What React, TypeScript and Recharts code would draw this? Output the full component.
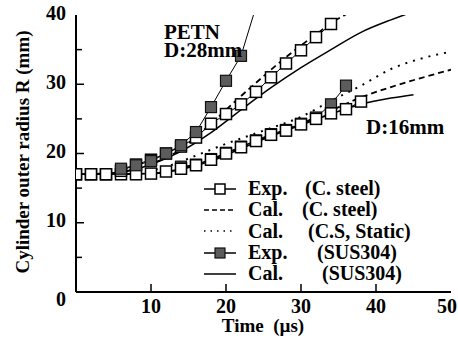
import React from "react";
import { LineChart, Line, XAxis, YAxis, Legend } from "recharts";

// D:28mm branch (PETN)
const expSteel28T = [0, 2, 4, 6, 8, 10, 12, 14, 16, 18, 20, 22, 24, 26, 28, 30, 32, 34];
const expSteel28R = [17, 17, 17, 17.5, 18.4, 19.1, 20.0, 21.0, 22.3, 24.3, 25.7, 27.1, 28.9, 31.0, 33.0, 34.9, 36.8, 38.7];
const calSteel28T = [0, 4, 8, 10, 12, 14, 16, 18, 20, 22, 24, 26, 28, 30, 32, 34, 36];
const calSteel28R = [17, 17.1, 17.8, 18.5, 19.4, 20.6, 22.4, 24.3, 26.3, 28.3, 30.2, 32.1, 33.9, 35.6, 37.2, 38.8, 40.1];
const expSus28T = [6, 8, 10, 12, 14, 16, 18, 20, 22, 24];
const expSus28R = [17.8, 18.3, 18.9, 20.0, 21.2, 23.1, 26.7, 30.5, 34.1, 41.2];
const calSus28T = [0, 6, 10, 14, 18, 22, 26, 30, 34, 38, 42, 44];
const calSus28R = [17, 17.3, 18.4, 20.3, 23.0, 26.3, 29.5, 32.4, 35.0, 37.5, 39.3, 40.1];

// D:16mm branch
const expSteel16T = [0, 2, 4, 6, 8, 10, 12, 14, 16, 18, 20, 22, 24, 26, 28, 30, 32, 34, 36, 38];
const expSteel16R = [17, 17, 17, 17, 17, 17.1, 17.4, 17.8, 18.3, 19.1, 20.0, 20.9, 21.8, 22.7, 23.3, 24.2, 25.0, 25.8, 26.4, 27.5];
const calSteel16T = [0, 10, 14, 18, 22, 26, 30, 34, 38, 42, 46, 50];
const calSteel16R = [17, 17.1, 17.8, 19.1, 20.8, 22.6, 24.3, 26.2, 28.1, 29.6, 30.9, 32.1];
const calStatic16T = [0, 8, 12, 16, 20, 25, 30, 34, 38, 42, 46, 50];
const calStatic16R = [17, 17.2, 18.1, 19.7, 21.4, 23.3, 25.3, 27.6, 29.8, 32.2, 33.7, 34.7];
const expSus16T = [14, 16, 18, 20, 22, 24, 26, 28, 30, 32, 34, 36];
const expSus16R = [18.1, 18.4, 19.2, 20.1, 21.0, 21.9, 22.8, 23.4, 24.3, 25.2, 27.1, 29.8];
const calSus16T = [0, 10, 14, 18, 22, 26, 30, 34, 38, 42, 45];
const calSus16R = [17, 17.1, 17.7, 18.9, 20.7, 22.5, 24.1, 25.7, 27.1, 28.0, 28.5];

const xTicks = [0, 10, 20, 30, 40, 50];
const yTicks = [0, 5, 10, 15, 20, 25, 30, 35, 40];

const legendRows = [
  { kind: "expSteel", a: "Exp.", b: "(C. steel)" },
  { kind: "calSteel", a: "Cal.", b: "(C. steel)" },
  { kind: "calStatic", a: "Cal.", b: "(C.S, Static)" },
  { kind: "expSus", a: "Exp.", b: "(SUS304)" },
  { kind: "calSus", a: "Cal.", b: "(SUS304)" },
];

const zip = (t: number[], r: number[]) => t.map((v, i) => ({ t: v, r: r[i] }));

const FONT = '"Liberation Serif", "Times New Roman", serif';
const FILL_SUS = "#5c5c5c";

const OpenSquare = (p: any) => {
  if (p.cx == null || p.cy == null) return <g key={p.index} />;
  return (
    <rect key={p.index} x={p.cx - 5.5} y={p.cy - 5.5} width={11} height={11} fill="#fff" stroke="#000" strokeWidth={1.5} />
  );
};

const FilledSquare = (p: any) => {
  if (p.cx == null || p.cy == null) return <g key={p.index} />;
  return (
    <rect key={p.index} x={p.cx - 5.5} y={p.cy - 5.5} width={11} height={11} fill={FILL_SUS} stroke="#111" strokeWidth={1.2} />
  );
};

const BottomTick = (p: any) => {
  const v = p.payload.value;
  const last = v === 50;
  return (
    <g>
      {v > 0 && v < 50 && <line x1={p.x} x2={p.x} y1={p.y} y2={p.y - 8} stroke="#000" strokeWidth={1.5} />}
      {v > 0 && (
        <text
          x={last ? p.x + 6 : p.x}
          y={p.y + 16}
          textAnchor={last ? "end" : "middle"}
          dominantBaseline="middle"
          fontFamily={FONT}
          fontWeight="bold"
          fontSize={20}
          fill="#000"
        >
          {v}
        </text>
      )}
    </g>
  );
};

const TopTick = (p: any) => {
  const v = p.payload.value;
  if (v <= 0 || v >= 50) return <g />;
  return <line x1={p.x} x2={p.x} y1={p.y} y2={p.y + 8} stroke="#000" strokeWidth={1.5} />;
};

const LeftTick = (p: any) => {
  const v = p.payload.value;
  const major = v % 10 === 0;
  return (
    <g>
      {v > 0 && v < 40 && <line x1={p.x} x2={p.x + (major ? 8 : 6)} y1={p.y} y2={p.y} stroke="#000" strokeWidth={1.5} />}
      {major && (
        <text x={p.x - 10} y={v === 0 ? p.y + 9 : p.y} textAnchor="end" dominantBaseline="middle" fontFamily={FONT} fontWeight="bold" fontSize={20} fill="#000">
          {v}
        </text>
      )}
    </g>
  );
};

const RightTick = (p: any) => {
  const v = p.payload.value;
  if (v <= 0 || v >= 40) return <g />;
  const major = v % 10 === 0;
  return <line x1={p.x} x2={p.x - (major ? 10 : 7)} y1={p.y} y2={p.y} stroke="#000" strokeWidth={1.5} />;
};

const LegendIcon = ({ kind }: { kind: string }) => (
  <svg width={32} height={14} style={{ display: "block" }}>
    {kind === "expSteel" && (
      <>
        <line x1={0} x2={32} y1={7} y2={7} stroke="#000" strokeWidth={1.5} />
        <rect x={11} y={2} width={10} height={10} fill="#fff" stroke="#000" strokeWidth={1.5} />
      </>
    )}
    {kind === "calSteel" && <line x1={0} x2={32} y1={7} y2={7} stroke="#000" strokeWidth={1.5} strokeDasharray="5 3" />}
    {kind === "calStatic" && <line x1={0} x2={32} y1={7} y2={7} stroke="#000" strokeWidth={1.5} strokeDasharray="1.5 5" />}
    {kind === "expSus" && (
      <>
        <line x1={0} x2={32} y1={7} y2={7} stroke="#000" strokeWidth={1.5} />
        <rect x={11} y={2} width={10} height={10} fill={FILL_SUS} stroke="#111" strokeWidth={1.2} />
      </>
    )}
    {kind === "calSus" && <line x1={0} x2={32} y1={7} y2={7} stroke="#000" strokeWidth={1.5} />}
  </svg>
);

const secondCol: Record<string, number> = { expSteel: 57, calSteel: 54, calStatic: 60, expSus: 69, calSus: 74 };

const renderLegend = () => (
  <div style={{ fontFamily: FONT, fontWeight: "bold", fontSize: 20, color: "#000" }}>
    {legendRows.map((row, i) => (
      <div key={i} style={{ display: "flex", alignItems: "center", height: 21.3, lineHeight: "21px", whiteSpace: "pre" }}>
        <LegendIcon kind={row.kind} />
        <span style={{ marginLeft: 12, width: secondCol[row.kind], display: "inline-block" }}>{row.a}</span>
        <span>{row.b}</span>
      </div>
    ))}
  </div>
);

const textStyle: React.CSSProperties = {
  position: "absolute",
  fontFamily: FONT,
  fontWeight: "bold",
  color: "#000",
  whiteSpace: "pre",
  lineHeight: 1,
};

export default function App() {
  return (
    <div style={{ position: "absolute", left: 0, top: 0, width: 458, height: 342, background: "#fff" }}>
      <LineChart width={458} height={342} margin={{ top: 15, right: 7, left: 0, bottom: 0 }}>
        <XAxis
          xAxisId="b"
          type="number"
          dataKey="t"
          domain={[0, 50]}
          ticks={xTicks}
          allowDataOverflow
          height={50}
          tickSize={0}
          tickMargin={0}
          tickLine={false}
          axisLine={{ stroke: "#000", strokeWidth: 2 }}
          tick={BottomTick}
          interval={0}
        />
        <XAxis
          xAxisId="top"
          orientation="top"
          type="number"
          dataKey="t"
          domain={[0, 50]}
          ticks={xTicks}
          height={0}
          tickSize={0}
          tickMargin={0}
          tickLine={false}
          axisLine={{ stroke: "#000", strokeWidth: 2 }}
          tick={TopTick}
          interval={0}
        />
        <YAxis
          yAxisId="l"
          type="number"
          domain={[0, 40]}
          ticks={yTicks}
          allowDataOverflow
          width={76}
          tickSize={0}
          tickMargin={0}
          tickLine={false}
          axisLine={{ stroke: "#000", strokeWidth: 2 }}
          tick={LeftTick}
          interval={0}
        />
        <YAxis
          yAxisId="r"
          orientation="right"
          type="number"
          domain={[0, 40]}
          ticks={yTicks}
          width={0}
          tickSize={0}
          tickMargin={0}
          tickLine={false}
          axisLine={{ stroke: "#000", strokeWidth: 2 }}
          tick={RightTick}
          interval={0}
        />

        {/* D:16mm */}
        <Line xAxisId="b" yAxisId="l" data={zip(calStatic16T, calStatic16R)} dataKey="r" type="monotone" stroke="#000" strokeWidth={2} strokeDasharray="2 6" dot={false} isAnimationActive={false} legendType="none" />
        <Line xAxisId="b" yAxisId="l" data={zip(calSteel16T, calSteel16R)} dataKey="r" type="monotone" stroke="#000" strokeWidth={1.8} strokeDasharray="6 4" dot={false} isAnimationActive={false} legendType="none" />
        <Line xAxisId="b" yAxisId="l" data={zip(calSus16T, calSus16R)} dataKey="r" type="monotone" stroke="#000" strokeWidth={1.5} dot={false} isAnimationActive={false} legendType="none" />
        <Line xAxisId="b" yAxisId="l" data={zip(expSus16T, expSus16R)} dataKey="r" type="linear" stroke="#000" strokeWidth={1} dot={FilledSquare} isAnimationActive={false} legendType="none" />
        <Line xAxisId="b" yAxisId="l" data={zip(expSteel16T, expSteel16R)} dataKey="r" type="linear" stroke="#000" strokeWidth={1} dot={OpenSquare} isAnimationActive={false} legendType="none" />

        {/* D:28mm */}
        <Line xAxisId="b" yAxisId="l" data={zip(calSteel28T, calSteel28R)} dataKey="r" type="monotone" stroke="#000" strokeWidth={1.8} strokeDasharray="6 4" dot={false} isAnimationActive={false} legendType="none" />
        <Line xAxisId="b" yAxisId="l" data={zip(calSus28T, calSus28R)} dataKey="r" type="monotone" stroke="#000" strokeWidth={1.5} dot={false} isAnimationActive={false} legendType="none" />
        <Line xAxisId="b" yAxisId="l" data={zip(expSteel28T, expSteel28R)} dataKey="r" type="linear" stroke="#000" strokeWidth={1} dot={OpenSquare} isAnimationActive={false} legendType="none" />
        <Line xAxisId="b" yAxisId="l" data={zip(expSus28T, expSus28R)} dataKey="r" type="linear" stroke="#000" strokeWidth={1} dot={FilledSquare} isAnimationActive={false} legendType="none" />

        <Legend
          layout="vertical"
          align="center"
          verticalAlign="middle"
          content={renderLegend}
          wrapperStyle={{ position: "absolute", left: 204, top: 178, width: 252, height: 110 }}
        />
      </LineChart>

      <div style={{ ...textStyle, left: 164, top: 22, fontSize: 21 }}>PETN</div>
      <div style={{ ...textStyle, left: 164, top: 40, fontSize: 21 }}>D:28mm</div>
      <div style={{ ...textStyle, left: 366, top: 117, fontSize: 21 }}>D:16mm</div>
      <div style={{ ...textStyle, left: 263, top: 316, fontSize: 19, transform: "translateX(-50%)" }}>{"Time  (µs)"}</div>
      <div
        style={{
          ...textStyle,
          left: 22,
          top: 152,
          fontSize: 19,
          transform: "translate(-50%, -50%) rotate(-90deg)",
        }}
      >
        Cylinder outer radius R (mm)
      </div>
    </div>
  );
}
